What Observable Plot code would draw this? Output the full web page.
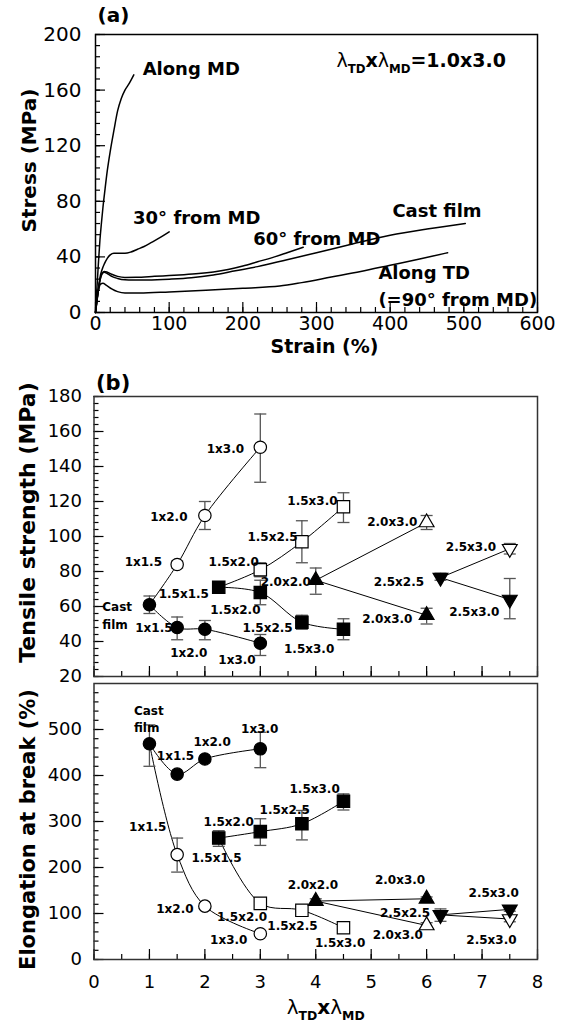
<!DOCTYPE html>
<html><head><meta charset="utf-8">
<script src="https://cdn.jsdelivr.net/npm/d3@7"></script>
<script src="https://cdn.jsdelivr.net/npm/@observablehq/plot@0.6"></script>
<style>
body{margin:0;background:#fff;}
#chart svg{display:block;}
</style></head><body><div id="chart"></div>
<script>
const W = 565;
const FONT = "'DejaVu Sans', sans-serif";

// ---------------- Panel (a): stress–strain curves ----------------
const curveNames = ["Along MD", "30° from MD", "60° from MD", "Cast film", "Along TD"];
const mdStrain  = [0, 2, 4, 6, 8, 10, 13, 16, 20, 25, 30, 35, 40, 46, 52];
const mdStress  = [0, 18, 36, 52, 64, 75, 89, 102, 116, 131, 145, 154, 160, 165, 171];
const d30Strain = [0, 2, 4, 6, 9, 12, 16, 20, 25, 32, 40, 48, 57, 66, 76, 88, 100];
const d30Stress = [0, 8, 17, 25, 31, 35, 39, 41.5, 42.7, 42.6, 42.6, 43.5, 45.5, 47.5, 50.4, 54, 58];
const d60Strain = [0, 2, 4, 6, 9, 12, 16, 22, 30, 40, 55, 80, 100, 120, 140, 160, 180, 200, 220, 240, 260, 282];
const d60Stress = [0, 9, 17, 23, 28, 29.5, 29, 27.5, 26, 25.2, 25.3, 26, 26.6, 27.2, 28, 29.2, 31, 33.5, 36.5, 39.5, 43, 47];
const castStrain = [0, 2, 4, 6, 9, 12, 16, 22, 30, 40, 50, 70, 100, 130, 160, 190, 220, 260, 300, 350, 400, 450, 502];
const castStress = [0, 9, 17, 23, 28, 29, 28, 26, 24.5, 23.5, 23.3, 23.4, 24, 25, 27, 30, 33, 38, 43, 49.5, 55.5, 60, 64];
const tdStrain  = [0, 2, 4, 7, 10, 15, 22, 30, 40, 60, 100, 150, 200, 250, 280, 320, 360, 400, 440, 478];
const tdStress  = [0, 9, 16, 20.5, 21, 19.5, 17, 15, 14, 14, 14.8, 16, 17.5, 19, 21.5, 25.5, 29.5, 34, 38.5, 43];

const aLabelText = ["Along MD", "30° from MD", "60° from MD", "Cast film", "Along TD", "(=90° from MD)"];
const aLabelX = [64, 51, 214, 403, 384, 384];
const aLabelY = [175, 68, 53, 73, 28.5, 8.7];
const ratioNote = "λTDxλMD=1.0x3.0";
const ratioNoteX = 327, ratioNoteY = 181;

// ---------------- Panel (b): tensile strength & elongation ----------------
const circX = [1.0, 1.5, 2.0, 3.0];       // cast film, 1x1.5, 1x2.0, 1x3.0
const sqX   = [2.25, 3.0, 3.75, 4.5];     // 1.5x1.5, 1.5x2.0, 1.5x2.5, 1.5x3.0
const upX   = [4.0, 6.0];                 // 2.0x2.0, 2.0x3.0
const dnX   = [6.25, 7.5];                // 2.5x2.5, 2.5x3.0

// tensile strength (MPa): open = along MD, filled = along TD
const tsCircOpen = [61, 84, 112, 151],  tsCircOpenLo = [56, 82, 104, 131], tsCircOpenHi = [66, 86, 120, 170];
const tsCircFill = [61, 48, 47, 39],    tsCircFillLo = [56, 41, 41, 32],   tsCircFillHi = [66, 54, 52, 44];
const tsSqOpen   = [71, 81, 97, 117],   tsSqOpenLo   = [68, 77, 85, 108],  tsSqOpenHi   = [74, 85, 109, 125];
const tsSqFill   = [71, 68, 51, 47],    tsSqFillLo   = [68, 61, 47, 41],   tsSqFillHi   = [74, 75, 55, 53];
const tsUpOpen   = [75, 108],           tsUpOpenLo   = [67, 104],          tsUpOpenHi   = [82, 112];
const tsUpFill   = [75, 55],            tsUpFillLo   = [67, 50],           tsUpFillHi   = [82, 59];
const tsDnOpen   = [76.5, 93],          tsDnOpenLo   = [75, 90],           tsDnOpenHi   = [79, 96];
const tsDnFill   = [76.5, 64],          tsDnFillLo   = [75, 53],           tsDnFillHi   = [79, 76];

// elongation at break (%)
const elCircOpen = [469, 228, 116, 56], elCircOpenLo = [420, 190, 111, 51], elCircOpenHi = [510, 264, 121, 61];
const elCircFill = [469, 403, 436, 458], elCircFillLo = [420, 400, 432, 417], elCircFillHi = [510, 406, 440, 494];
const elSqOpen   = [264, 122, 107, 69], elSqOpenLo   = [246, 118, 96, 66],  elSqOpenHi   = [280, 126, 116, 72];
const elSqFill   = [264, 278, 295, 344], elSqFillLo  = [246, 248, 260, 325], elSqFillHi  = [280, 306, 324, 360];
const elUpOpen   = [127, 74],           elUpOpenLo   = [122, 66],           elUpOpenHi   = [132, 80];
const elUpFill   = [127, 132],          elUpFillLo   = [122, 128],          elUpFillHi   = [132, 136];
const elDnOpen   = [97, 88],            elDnOpenLo   = [83, 82],            elDnOpenHi   = [110, 94];
const elDnFill   = [97, 109],           elDnFillLo   = [83, 105],           elDnFillHi   = [110, 113];

const tsLabelText = ["1x3.0","1x2.0","1x1.5","1.5x2.0","1.5x2.5","1.5x3.0","2.0x3.0","2.5x3.0","2.5x2.5","2.0x2.0","2.0x3.0","2.5x3.0","1.5x2.0","1.5x1.5","1x1.5","1.5x2.5","1x2.0","1x3.0","1.5x3.0"];
const tsLabelX = [2.37,1.35,0.89,2.52,3.22,3.94,5.38,6.8,5.5,3.46,5.29,6.86,2.55,1.62,1.08,3.13,1.71,2.58,3.88];
const tsLabelY = [150,111,85.3,85.3,99.6,120,108,94,74,74,53,56.8,58,66.9,47.8,47.6,33.3,29.5,35.8];
const tsCastX = 0.15, tsCastY = 55.5;

const elLabelText = ["1x1.5","1x2.0","1x3.0","1x1.5","1.5x1.5","1.5x2.0","1.5x2.5","1.5x3.0","1x2.0","1.5x2.0","1x3.0","1.5x2.5","1.5x3.0","2.0x2.0","2.0x3.0","2.5x3.0","2.5x2.5","2.0x3.0","2.5x3.0"];
const elLabelX = [1.47,2.13,2.99,0.97,2.21,2.43,3.44,3.98,1.46,2.67,2.43,3.58,4.44,3.95,5.52,7.21,5.61,5.48,7.17];
const elLabelY = [443,472,500,288,220,298,325,371,110,91,43,72,35.5,161,172,145,101,54,43];
const elCastX = 0.72, elCastY = 525;

// ---------------- helpers ----------------
const curves = [[mdStrain, mdStress], [d30Strain, d30Stress], [d60Strain, d60Stress], [castStrain, castStress], [tdStrain, tdStress]];
const curveRows = curves.flatMap(([xs, ys], k) => xs.map((x, i) => ({c: curveNames[k], x, y: ys[i]})));

function group(id, shape, open, xs, ys, lo, hi) { return {id, shape, open, xs, ys, lo, hi}; }
function buildRows(groups) {
  return groups.flatMap(g => g.xs.map((x, i) => ({s: g.id, shape: g.shape, open: g.open, x, y: g.ys[i], lo: g.lo[i], hi: g.hi[i], marker: !(g.open && i === 0)})));
}
const tsRows = buildRows([
  group("co", "circle", true, circX, tsCircOpen, tsCircOpenLo, tsCircOpenHi),
  group("cf", "circle", false, circX, tsCircFill, tsCircFillLo, tsCircFillHi),
  group("so", "square", true, sqX, tsSqOpen, tsSqOpenLo, tsSqOpenHi),
  group("sf", "square", false, sqX, tsSqFill, tsSqFillLo, tsSqFillHi),
  group("uo", "up", true, upX, tsUpOpen, tsUpOpenLo, tsUpOpenHi),
  group("uf", "up", false, upX, tsUpFill, tsUpFillLo, tsUpFillHi),
  group("do", "down", true, dnX, tsDnOpen, tsDnOpenLo, tsDnOpenHi),
  group("df", "down", false, dnX, tsDnFill, tsDnFillLo, tsDnFillHi)
]);
const elRows = buildRows([
  group("co", "circle", true, circX, elCircOpen, elCircOpenLo, elCircOpenHi),
  group("cf", "circle", false, circX, elCircFill, elCircFillLo, elCircFillHi),
  group("so", "square", true, sqX, elSqOpen, elSqOpenLo, elSqOpenHi),
  group("sf", "square", false, sqX, elSqFill, elSqFillLo, elSqFillHi),
  group("uo", "up", true, upX, elUpOpen, elUpOpenLo, elUpOpenHi),
  group("uf", "up", false, upX, elUpFill, elUpFillLo, elUpFillHi),
  group("do", "down", true, dnX, elDnOpen, elDnOpenLo, elDnOpenHi),
  group("df", "down", false, dnX, elDnFill, elDnFillLo, elDnFillHi)
]);

const rad = size => Math.sqrt(size / Math.PI);
const capSym = {draw(c, size) { const s = rad(size); c.moveTo(-s, 0); c.lineTo(s, 0); }};
const squareSym = {draw(c, size) { const s = rad(size); c.moveTo(-s, -s); c.lineTo(s, -s); c.lineTo(s, s); c.lineTo(-s, s); c.closePath(); }};
const upSym = {draw(c, size) { const s = rad(size); c.moveTo(0, -1.155 * s); c.lineTo(s, 0.577 * s); c.lineTo(-s, 0.577 * s); c.closePath(); }};
const downSym = {draw(c, size) { const s = rad(size); c.moveTo(0, 1.155 * s); c.lineTo(s, -0.577 * s); c.lineTo(-s, -0.577 * s); c.closePath(); }};
const shapeSym = {circle: "circle", square: squareSym, up: upSym, down: downSym};
const shapeR = {circle: 6.2, square: 6.2, up: 7.4, down: 7.4};

function seriesMarks(rows) {
  const m = rows.filter(d => d.marker);
  const marks = [
    Plot.line(rows, {x: "x", y: "y", z: "s", curve: "catmull-rom", stroke: "black", strokeWidth: 1}),
    Plot.ruleX(m, {x: "x", y1: "lo", y2: "hi", stroke: "#555", strokeWidth: 1.3}),
    Plot.dot(m, {x: "x", y: "lo", symbol: capSym, r: 6, stroke: "#555", strokeWidth: 1.3}),
    Plot.dot(m, {x: "x", y: "hi", symbol: capSym, r: 6, stroke: "#555", strokeWidth: 1.3})
  ];
  for (const shape of ["circle", "square", "up", "down"]) {
    for (const open of [true, false]) {
      marks.push(Plot.dot(m.filter(d => d.shape === shape && d.open === open), {
        x: "x", y: "y", symbol: shapeSym[shape], r: shapeR[shape],
        fill: open ? "white" : "black", stroke: "black", strokeWidth: 1.2
      }));
    }
  }
  return marks;
}

function yAxes(ticksMajor, ticksMinor, fs, pad) {
  return [
    Plot.axisY({ticks: ticksMinor, tickSize: -5, tickFormat: () => "", label: null, strokeWidth: 1.2}),
    Plot.axisY({ticks: ticksMajor, tickSize: -10, tickFormat: () => "", label: null, strokeWidth: 1.2}),
    Plot.axisY({ticks: ticksMajor, tickSize: 0, tickPadding: pad, label: null, fontSize: fs})
  ];
}
function xAxes(ticksMajor, ticksMinor, fs, pad, withText) {
  const a = [
    Plot.axisX({ticks: ticksMinor, tickSize: -5, tickFormat: () => "", label: null, strokeWidth: 1.2}),
    Plot.axisX({ticks: ticksMajor, tickSize: -10, tickFormat: () => "", label: null, strokeWidth: 1.2})
  ];
  if (withText) a.push(Plot.axisX({ticks: ticksMajor, tickSize: 0, tickPadding: pad, label: null, fontSize: fs}));
  return a;
}

function richLambda(svg, fs) {
  for (const t of svg.querySelectorAll("text")) {
    const s = t.textContent;
    if (!s.startsWith("λTDxλMD")) continue;
    const rest = s.slice("λTDxλMD".length);
    while (t.firstChild) t.removeChild(t.firstChild);
    const sub = fs * 0.62, shift = fs * 0.32;
    const parts = [
      ["λ", {"font-weight": "normal"}],
      ["TD", {"font-size": sub, dy: shift}],
      ["x", {dy: -shift}],
      ["λ", {"font-weight": "normal"}],
      ["MD", {"font-size": sub, dy: shift}]
    ];
    if (rest) parts.push([rest, {dy: -shift}]);
    for (const [txt, attrs] of parts) {
      const sp = document.createElementNS("http://www.w3.org/2000/svg", "tspan");
      for (const k in attrs) sp.setAttribute(k, attrs[k]);
      sp.textContent = txt;
      t.appendChild(sp);
    }
  }
}

const baseStyle = {fontFamily: FONT, color: "black", background: "white", overflow: "visible"};
const titleOpts = {textAnchor: "middle", lineAnchor: "middle", fontWeight: "bold"};

// ---------------- Plot (a) ----------------
const plotA = Plot.plot({
  width: W, height: 355, marginLeft: 95, marginRight: 28, marginTop: 34, marginBottom: 43,
  style: {...baseStyle, fontSize: "20px"},
  x: {domain: [0, 600]}, y: {domain: [0, 200]},
  marks: [
    ...xAxes(d3.range(0, 601, 100), d3.range(0, 601, 20), 19, 4, true),
    ...yAxes(d3.range(0, 201, 40), d3.range(0, 201, 8), 20, 14),
    Plot.line(curveRows, {x: "x", y: "y", z: "c", curve: "monotone-x", stroke: "black", strokeWidth: 1.5}),
    Plot.frame({stroke: "black", strokeWidth: 1.5}),
    Plot.text(aLabelText, {x: (d, i) => aLabelX[i], y: (d, i) => aLabelY[i], text: d => d, textAnchor: "start", fontWeight: "bold", fontSize: 18}),
    Plot.text([ratioNote], {x: () => ratioNoteX, y: () => ratioNoteY, text: d => d, textAnchor: "start", fontWeight: "bold", fontSize: 19}),
    Plot.text(["(a)"], {frameAnchor: "top-left", text: d => d, dx: 2, dy: -19, textAnchor: "start", lineAnchor: "middle", fontWeight: "bold", fontSize: 20}),
    Plot.text(["Stress (MPa)"], {frameAnchor: "left", text: d => d, rotate: -90, dx: -66, dy: -13, ...titleOpts, fontSize: 20}),
    Plot.text(["Strain (%)"], {frameAnchor: "bottom", text: d => d, dx: 8, dy: 34, ...titleOpts, fontSize: 19})
  ]
});
richLambda(plotA, 19);

// ---------------- Plot (b) top: tensile strength ----------------
const plotB1 = Plot.plot({
  width: W, height: 325, marginLeft: 93.5, marginRight: 28, marginTop: 41, marginBottom: 4,
  style: {...baseStyle, fontSize: "18px"},
  x: {domain: [0, 8]}, y: {domain: [20, 180]},
  marks: [
    ...xAxes(d3.range(0, 9, 1), d3.range(0, 8.01, 0.5), 18, 16, false),
    ...yAxes(d3.range(20, 181, 20), d3.range(20, 181, 4), 18, 12),
    ...seriesMarks(tsRows),
    Plot.frame({stroke: "#333", strokeWidth: 1.5}),
    Plot.text(tsLabelText, {x: (d, i) => tsLabelX[i], y: (d, i) => tsLabelY[i], text: d => d, fontWeight: "bold", fontSize: 12}),
    Plot.text(["Cast\nfilm"], {x: () => tsCastX, y: () => tsCastY, text: d => d, textAnchor: "start", lineHeight: 1.45, fontWeight: "bold", fontSize: 12}),
    Plot.text(["(b)"], {frameAnchor: "top-left", text: d => d, dx: 2, dy: -13, textAnchor: "start", lineAnchor: "middle", fontWeight: "bold", fontSize: 21}),
    Plot.text(["Tensile strength (MPa)"], {frameAnchor: "left", text: d => d, rotate: -90, dx: -66, dy: -14, ...titleOpts, fontSize: 22})
  ]
});

// ---------------- Plot (b) bottom: elongation at break ----------------
const plotB2 = Plot.plot({
  width: W, height: 345, marginLeft: 93.5, marginRight: 28, marginTop: 3, marginBottom: 66,
  style: {...baseStyle, fontSize: "18px"},
  x: {domain: [0, 8]}, y: {domain: [0, 600]},
  marks: [
    ...xAxes(d3.range(0, 9, 1), d3.range(0, 8.01, 0.5), 18, 16, true),
    ...yAxes(d3.range(0, 501, 100), d3.range(0, 600, 20), 18, 12),
    ...seriesMarks(elRows),
    Plot.frame({stroke: "#333", strokeWidth: 1.5}),
    Plot.text(elLabelText, {x: (d, i) => elLabelX[i], y: (d, i) => elLabelY[i], text: d => d, fontWeight: "bold", fontSize: 12}),
    Plot.text(["Cast\nfilm"], {x: () => elCastX, y: () => elCastY, text: d => d, textAnchor: "start", lineHeight: 1.45, fontWeight: "bold", fontSize: 12}),
    Plot.text(["Elongation at break (%)"], {frameAnchor: "left", text: d => d, rotate: -90, dx: -66, dy: 8, ...titleOpts, fontSize: 21}),
    Plot.text(["λTDxλMD"], {frameAnchor: "bottom", text: d => d, dx: 10, dy: 48, ...titleOpts, fontSize: 20})
  ]
});
richLambda(plotB2, 20);

const root = document.getElementById("chart");
root.append(plotA, plotB1, plotB2);
</script>
</body></html>
